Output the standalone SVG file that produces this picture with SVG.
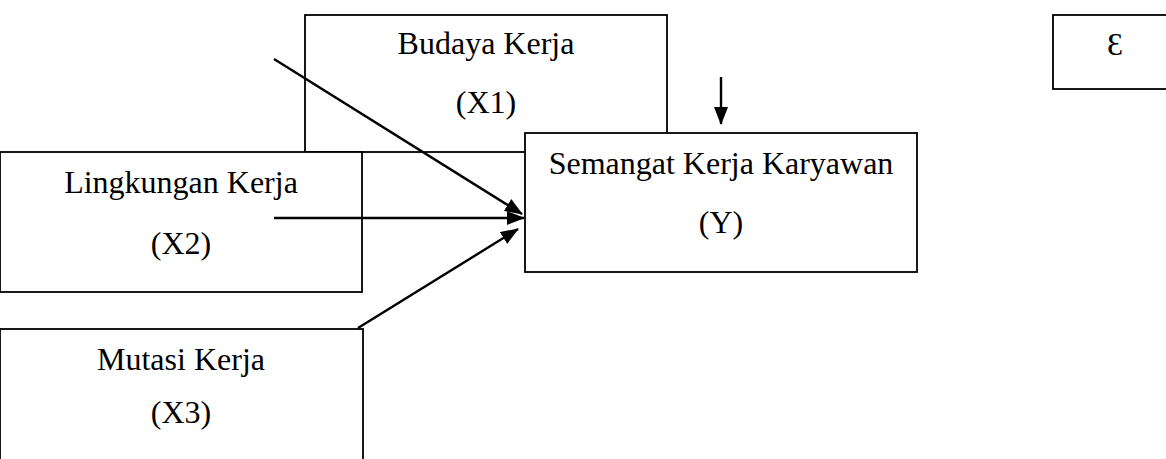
<svg xmlns="http://www.w3.org/2000/svg" width="1166" height="459" viewBox="0 0 1166 459">
  <style>
    .box { fill: #ffffff; stroke: #000000; stroke-width: 1.8; }
    .lbl { font-family: "Liberation Serif", "Times New Roman", serif; font-size: 32px; fill: #000000; text-anchor: middle; }
    .arrow { stroke: #000000; stroke-width: 2.4; fill: none; marker-end: url(#head); }
  </style>
  <defs>
    <marker id="head" markerUnits="userSpaceOnUse" markerWidth="18" markerHeight="14" viewBox="0 0 18 14" refX="17" refY="7" orient="auto">
      <path d="M0,0 L18,7 L0,14 Z" fill="#000000"/>
    </marker>
  </defs>

  <!-- X1 -->
  <g id="budaya-kerja">
    <rect class="box" x="305" y="15" width="362" height="137"/>
    <text class="lbl" x="486" y="54">Budaya Kerja</text>
    <text class="lbl" x="486" y="113">(X1)</text>
  </g>

  <!-- X2 -->
  <g id="lingkungan-kerja">
    <rect class="box" x="0" y="152" width="362" height="140"/>
    <text class="lbl" x="181" y="193">Lingkungan Kerja</text>
    <text class="lbl" x="181" y="254">(X2)</text>
  </g>

  <!-- X3 -->
  <g id="mutasi-kerja">
    <rect class="box" x="0" y="329" width="363" height="150"/>
    <text class="lbl" x="181" y="370">Mutasi Kerja</text>
    <text class="lbl" x="181" y="423">(X3)</text>
  </g>

  <!-- Y -->
  <g id="semangat-kerja">
    <rect class="box" x="525" y="133" width="392" height="139"/>
    <text class="lbl" x="721" y="174">Semangat Kerja Karyawan</text>
    <text class="lbl" x="721" y="233">(Y)</text>
  </g>

  <!-- error term -->
  <g id="epsilon">
    <rect class="box" x="1053" y="15" width="125" height="74"/>
    <text class="lbl" x="1115" y="55">Ɛ</text>
  </g>

  <g id="connectors">
    <line class="arrow" x1="274" y1="59" x2="522" y2="214"/>
    <line class="arrow" x1="274" y1="218" x2="524" y2="218"/>
    <line class="arrow" x1="358" y1="328" x2="518" y2="229"/>
    <line class="arrow" x1="721" y1="77" x2="721" y2="124"/>
  </g>
</svg>
